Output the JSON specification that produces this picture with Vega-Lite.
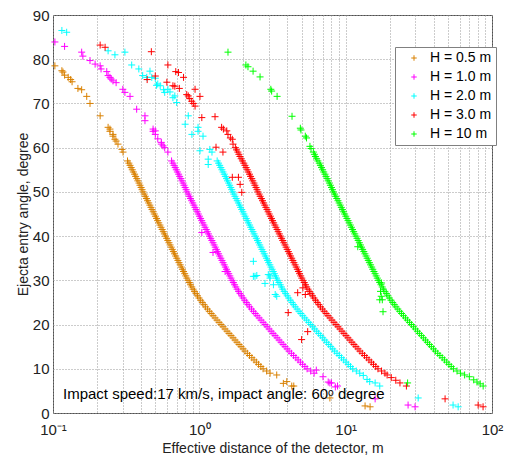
{
"$schema":"https://vega.github.io/schema/vega-lite/v6.json",
"width":439,"height":398,
"autosize":{"type":"none"},
"padding":{"left":53,"top":15,"right":16,"bottom":42},
"background":"white",
"config":{"view":{"stroke":"#505050","strokeWidth":1},"font":"Liberation Sans"},
"layer":[
{"data":{"values":[
{"H":"0.5","x":0.103,"y":78.5},{"H":"0.5","x":0.115,"y":77.4},{"H":"0.5","x":0.117,"y":77.1},{"H":"0.5","x":0.12,"y":76.4},{"H":"0.5","x":0.127,"y":75.9},{"H":"0.5","x":0.132,"y":75.4},{"H":"0.5","x":0.135,"y":74.9},{"H":"0.5","x":0.148,"y":73.4},{"H":"0.5","x":0.157,"y":73.1},{"H":"0.5","x":0.17,"y":71.6},{"H":"0.5","x":0.179,"y":70},{"H":"0.5","x":0.21,"y":67.2},{"H":"0.5","x":0.238,"y":64.6},{"H":"0.5","x":0.245,"y":64.2},{"H":"0.5","x":0.245,"y":63.7},{"H":"0.5","x":0.257,"y":63},{"H":"0.5","x":0.257,"y":62.6},{"H":"0.5","x":0.265,"y":61.9},{"H":"0.5","x":0.27,"y":61.5},{"H":"0.5","x":0.278,"y":60.8},{"H":"0.5","x":0.296,"y":59.6},{"H":"0.5","x":0.301,"y":59},
{"H":"0.5","x":0.323,"y":57},{"H":"0.5","x":0.330,"y":56.5},{"H":"0.5","x":0.336,"y":56},{"H":"0.5","x":0.342,"y":55.5},{"H":"0.5","x":0.348,"y":55},{"H":"0.5","x":0.354,"y":54.5},{"H":"0.5","x":0.361,"y":54},{"H":"0.5","x":0.367,"y":53.5},{"H":"0.5","x":0.374,"y":53},{"H":"0.5","x":0.380,"y":52.5},{"H":"0.5","x":0.387,"y":52},{"H":"0.5","x":0.393,"y":51.5},{"H":"0.5","x":0.400,"y":51},{"H":"0.5","x":0.406,"y":50.5},{"H":"0.5","x":0.412,"y":50},{"H":"0.5","x":0.420,"y":49.5},{"H":"0.5","x":0.427,"y":49},{"H":"0.5","x":0.435,"y":48.5},{"H":"0.5","x":0.443,"y":48},{"H":"0.5","x":0.451,"y":47.5},{"H":"0.5","x":0.459,"y":47},{"H":"0.5","x":0.467,"y":46.5},{"H":"0.5","x":0.475,"y":46},{"H":"0.5","x":0.484,"y":45.5},{"H":"0.5","x":0.492,"y":45},{"H":"0.5","x":0.501,"y":44.5},{"H":"0.5","x":0.510,"y":44},{"H":"0.5","x":0.519,"y":43.5},{"H":"0.5","x":0.528,"y":43},{"H":"0.5","x":0.538,"y":42.5},{"H":"0.5","x":0.547,"y":42},{"H":"0.5","x":0.557,"y":41.5},{"H":"0.5","x":0.567,"y":41},{"H":"0.5","x":0.577,"y":40.5},{"H":"0.5","x":0.587,"y":40},{"H":"0.5","x":0.598,"y":39.5},{"H":"0.5","x":0.609,"y":39},{"H":"0.5","x":0.620,"y":38.5},{"H":"0.5","x":0.631,"y":38},{"H":"0.5","x":0.642,"y":37.5},{"H":"0.5","x":0.653,"y":37},{"H":"0.5","x":0.665,"y":36.5},{"H":"0.5","x":0.677,"y":36},{"H":"0.5","x":0.689,"y":35.5},{"H":"0.5","x":0.701,"y":35},{"H":"0.5","x":0.714,"y":34.5},{"H":"0.5","x":0.726,"y":34},{"H":"0.5","x":0.740,"y":33.5},{"H":"0.5","x":0.753,"y":33},{"H":"0.5","x":0.766,"y":32.5},{"H":"0.5","x":0.780,"y":32},{"H":"0.5","x":0.794,"y":31.5},{"H":"0.5","x":0.808,"y":31},{"H":"0.5","x":0.822,"y":30.5},{"H":"0.5","x":0.837,"y":30},{"H":"0.5","x":0.854,"y":29.5},{"H":"0.5","x":0.871,"y":29},{"H":"0.5","x":0.888,"y":28.5},{"H":"0.5","x":0.906,"y":28},{"H":"0.5","x":0.927,"y":27.5},{"H":"0.5","x":0.949,"y":27},{"H":"0.5","x":0.972,"y":26.5},{"H":"0.5","x":0.995,"y":26},{"H":"0.5","x":1.021,"y":25.5},{"H":"0.5","x":1.048,"y":25},{"H":"0.5","x":1.075,"y":24.5},{"H":"0.5","x":1.103,"y":24},{"H":"0.5","x":1.136,"y":23.5},{"H":"0.5","x":1.170,"y":23},{"H":"0.5","x":1.205,"y":22.5},{"H":"0.5","x":1.241,"y":22},{"H":"0.5","x":1.281,"y":21.5},{"H":"0.5","x":1.321,"y":21},{"H":"0.5","x":1.364,"y":20.5},{"H":"0.5","x":1.407,"y":20},{"H":"0.5","x":1.452,"y":19.5},{"H":"0.5","x":1.498,"y":19},{"H":"0.5","x":1.547,"y":18.5},{"H":"0.5","x":1.595,"y":18},{"H":"0.5","x":1.647,"y":17.5},{"H":"0.5","x":1.699,"y":17},{"H":"0.5","x":1.754,"y":16.5},{"H":"0.5","x":1.809,"y":16},{"H":"0.5","x":1.868,"y":15.5},{"H":"0.5","x":1.927,"y":15},{"H":"0.5","x":1.990,"y":14.5},{"H":"0.5","x":2.052,"y":14},{"H":"0.5","x":2.128,"y":13.5},{"H":"0.5","x":2.203,"y":13},{"H":"0.5","x":2.284,"y":12.5},{"H":"0.5","x":2.365,"y":12},{"H":"0.5","x":2.452,"y":11.5},{"H":"0.5","x":2.539,"y":11},{"H":"0.5","x":2.632,"y":10.5},{"H":"0.5","x":2.725,"y":10},{"H":"0.5","x":2.884,"y":9.5},{"H":"0.5","x":3.043,"y":9},
{"H":"0.5","x":3.38,"y":8.6},{"H":"0.5","x":3.75,"y":6.7},{"H":"0.5","x":3.96,"y":7.1},{"H":"0.5","x":4.28,"y":6.1},{"H":"0.5","x":4.42,"y":6.1},{"H":"0.5","x":7.8,"y":3.4},{"H":"0.5","x":13.57,"y":1.6},{"H":"0.5","x":14.68,"y":1.4},

{"H":"1.0","x":0.103,"y":83.9},{"H":"1.0","x":0.12,"y":82.9},{"H":"1.0","x":0.157,"y":81.6},{"H":"1.0","x":0.16,"y":80.7},{"H":"1.0","x":0.179,"y":79.7},{"H":"1.0","x":0.194,"y":78.9},{"H":"1.0","x":0.21,"y":78.5},{"H":"1.0","x":0.213,"y":77.8},{"H":"1.0","x":0.233,"y":77.2},{"H":"1.0","x":0.238,"y":76.3},{"H":"1.0","x":0.245,"y":75.9},{"H":"1.0","x":0.25,"y":75.5},{"H":"1.0","x":0.257,"y":75.1},{"H":"1.0","x":0.27,"y":74.7},{"H":"1.0","x":0.30,"y":73.2},{"H":"1.0","x":0.31,"y":72.5},{"H":"1.0","x":0.336,"y":71.6},{"H":"1.0","x":0.373,"y":68.7},{"H":"1.0","x":0.425,"y":67.2},{"H":"1.0","x":0.425,"y":66.1},{"H":"1.0","x":0.483,"y":64.2},{"H":"1.0","x":0.483,"y":63.7},{"H":"1.0","x":0.5,"y":63.8},{"H":"1.0","x":0.5,"y":63.0},{"H":"1.0","x":0.52,"y":62.0},{"H":"1.0","x":0.55,"y":61.2},{"H":"1.0","x":0.55,"y":60.8},{"H":"1.0","x":0.565,"y":60.4},{"H":"1.0","x":0.58,"y":60.0},{"H":"1.0","x":0.61,"y":59.0},
{"H":"1.0","x":0.646,"y":57},{"H":"1.0","x":0.660,"y":56.5},{"H":"1.0","x":0.672,"y":56},{"H":"1.0","x":0.684,"y":55.5},{"H":"1.0","x":0.696,"y":55},{"H":"1.0","x":0.708,"y":54.5},{"H":"1.0","x":0.722,"y":54},{"H":"1.0","x":0.734,"y":53.5},{"H":"1.0","x":0.748,"y":53},{"H":"1.0","x":0.760,"y":52.5},{"H":"1.0","x":0.774,"y":52},{"H":"1.0","x":0.786,"y":51.5},{"H":"1.0","x":0.800,"y":51},{"H":"1.0","x":0.812,"y":50.5},{"H":"1.0","x":0.824,"y":50},{"H":"1.0","x":0.840,"y":49.5},{"H":"1.0","x":0.854,"y":49},{"H":"1.0","x":0.870,"y":48.5},{"H":"1.0","x":0.886,"y":48},{"H":"1.0","x":0.902,"y":47.5},{"H":"1.0","x":0.918,"y":47},{"H":"1.0","x":0.934,"y":46.5},{"H":"1.0","x":0.950,"y":46},{"H":"1.0","x":0.968,"y":45.5},{"H":"1.0","x":0.984,"y":45},{"H":"1.0","x":1.002,"y":44.5},{"H":"1.0","x":1.020,"y":44},{"H":"1.0","x":1.038,"y":43.5},{"H":"1.0","x":1.056,"y":43},{"H":"1.0","x":1.076,"y":42.5},{"H":"1.0","x":1.094,"y":42},{"H":"1.0","x":1.114,"y":41.5},{"H":"1.0","x":1.134,"y":41},{"H":"1.0","x":1.154,"y":40.5},{"H":"1.0","x":1.174,"y":40},{"H":"1.0","x":1.196,"y":39.5},{"H":"1.0","x":1.218,"y":39},{"H":"1.0","x":1.240,"y":38.5},{"H":"1.0","x":1.262,"y":38},{"H":"1.0","x":1.284,"y":37.5},{"H":"1.0","x":1.306,"y":37},{"H":"1.0","x":1.330,"y":36.5},{"H":"1.0","x":1.354,"y":36},{"H":"1.0","x":1.378,"y":35.5},{"H":"1.0","x":1.402,"y":35},{"H":"1.0","x":1.428,"y":34.5},{"H":"1.0","x":1.452,"y":34},{"H":"1.0","x":1.480,"y":33.5},{"H":"1.0","x":1.506,"y":33},{"H":"1.0","x":1.532,"y":32.5},{"H":"1.0","x":1.560,"y":32},{"H":"1.0","x":1.588,"y":31.5},{"H":"1.0","x":1.616,"y":31},{"H":"1.0","x":1.644,"y":30.5},{"H":"1.0","x":1.674,"y":30},{"H":"1.0","x":1.708,"y":29.5},{"H":"1.0","x":1.742,"y":29},{"H":"1.0","x":1.776,"y":28.5},{"H":"1.0","x":1.812,"y":28},{"H":"1.0","x":1.854,"y":27.5},{"H":"1.0","x":1.898,"y":27},{"H":"1.0","x":1.944,"y":26.5},{"H":"1.0","x":1.990,"y":26},{"H":"1.0","x":2.042,"y":25.5},{"H":"1.0","x":2.096,"y":25},{"H":"1.0","x":2.150,"y":24.5},{"H":"1.0","x":2.206,"y":24},{"H":"1.0","x":2.272,"y":23.5},{"H":"1.0","x":2.340,"y":23},{"H":"1.0","x":2.410,"y":22.5},{"H":"1.0","x":2.482,"y":22},{"H":"1.0","x":2.562,"y":21.5},{"H":"1.0","x":2.642,"y":21},{"H":"1.0","x":2.728,"y":20.5},{"H":"1.0","x":2.814,"y":20},{"H":"1.0","x":2.904,"y":19.5},{"H":"1.0","x":2.996,"y":19},{"H":"1.0","x":3.094,"y":18.5},{"H":"1.0","x":3.190,"y":18},{"H":"1.0","x":3.294,"y":17.5},{"H":"1.0","x":3.398,"y":17},{"H":"1.0","x":3.508,"y":16.5},{"H":"1.0","x":3.618,"y":16},{"H":"1.0","x":3.736,"y":15.5},{"H":"1.0","x":3.854,"y":15},{"H":"1.0","x":3.980,"y":14.5},{"H":"1.0","x":4.104,"y":14},{"H":"1.0","x":4.256,"y":13.5},{"H":"1.0","x":4.406,"y":13},{"H":"1.0","x":4.568,"y":12.5},{"H":"1.0","x":4.730,"y":12},{"H":"1.0","x":4.904,"y":11.5},{"H":"1.0","x":5.078,"y":11},{"H":"1.0","x":5.264,"y":10.5},{"H":"1.0","x":5.450,"y":10},{"H":"1.0","x":5.768,"y":9.5},{"H":"1.0","x":6.086,"y":9},
{"H":"1.0","x":1.04,"y":40.8},{"H":"1.0","x":1.24,"y":36.3},{"H":"1.0","x":1.5,"y":32},
{"H":"1.0","x":6.3,"y":9.7},{"H":"1.0","x":7.0,"y":8.2},{"H":"1.0","x":7.6,"y":7.0},{"H":"1.0","x":7.8,"y":6.8},{"H":"1.0","x":8.0,"y":6.8},{"H":"1.0","x":8.5,"y":5.9},{"H":"1.0","x":8.8,"y":6.1},{"H":"1.0","x":15.9,"y":3.2},{"H":"1.0","x":26.7,"y":1.8},{"H":"1.0","x":29.8,"y":1.4},

{"H":"2.0","x":0.115,"y":86.5},{"H":"2.0","x":0.124,"y":86.1},{"H":"2.0","x":0.238,"y":81.9},{"H":"2.0","x":0.265,"y":81.0},{"H":"2.0","x":0.31,"y":81.6},{"H":"2.0","x":0.345,"y":78.7},{"H":"2.0","x":0.386,"y":77.8},{"H":"2.0","x":0.41,"y":76.3},{"H":"2.0","x":0.437,"y":75.9},{"H":"2.0","x":0.46,"y":77.3},{"H":"2.0","x":0.473,"y":75.9},{"H":"2.0","x":0.5,"y":75.7},{"H":"2.0","x":0.51,"y":74.1},{"H":"2.0","x":0.52,"y":74.4},{"H":"2.0","x":0.54,"y":74.0},{"H":"2.0","x":0.57,"y":73.1},{"H":"2.0","x":0.58,"y":72.5},{"H":"2.0","x":0.61,"y":73.2},{"H":"2.0","x":0.63,"y":72.6},{"H":"2.0","x":0.66,"y":71.3},{"H":"2.0","x":0.68,"y":71.7},{"H":"2.0","x":0.70,"y":70.2},{"H":"2.0","x":0.80,"y":65.3},{"H":"2.0","x":0.84,"y":67.2},{"H":"2.0","x":0.89,"y":63.0},{"H":"2.0","x":0.98,"y":64.6},{"H":"2.0","x":0.98,"y":63.7},{"H":"2.0","x":1.06,"y":62.6},{"H":"2.0","x":1.01,"y":59.3},{"H":"2.0","x":1.15,"y":57.4},{"H":"2.0","x":1.15,"y":56.2},{"H":"2.0","x":1.18,"y":59.6},{"H":"2.0","x":1.22,"y":59.0},
{"H":"2.0","x":1.324,"y":57},{"H":"2.0","x":1.353,"y":56.5},{"H":"2.0","x":1.378,"y":56},{"H":"2.0","x":1.402,"y":55.5},{"H":"2.0","x":1.427,"y":55},{"H":"2.0","x":1.451,"y":54.5},{"H":"2.0","x":1.480,"y":54},{"H":"2.0","x":1.505,"y":53.5},{"H":"2.0","x":1.533,"y":53},{"H":"2.0","x":1.558,"y":52.5},{"H":"2.0","x":1.587,"y":52},{"H":"2.0","x":1.611,"y":51.5},{"H":"2.0","x":1.640,"y":51},{"H":"2.0","x":1.665,"y":50.5},{"H":"2.0","x":1.689,"y":50},{"H":"2.0","x":1.722,"y":49.5},{"H":"2.0","x":1.751,"y":49},{"H":"2.0","x":1.784,"y":48.5},{"H":"2.0","x":1.816,"y":48},{"H":"2.0","x":1.849,"y":47.5},{"H":"2.0","x":1.882,"y":47},{"H":"2.0","x":1.915,"y":46.5},{"H":"2.0","x":1.948,"y":46},{"H":"2.0","x":1.984,"y":45.5},{"H":"2.0","x":2.017,"y":45},{"H":"2.0","x":2.054,"y":44.5},{"H":"2.0","x":2.091,"y":44},{"H":"2.0","x":2.128,"y":43.5},{"H":"2.0","x":2.165,"y":43},{"H":"2.0","x":2.206,"y":42.5},{"H":"2.0","x":2.243,"y":42},{"H":"2.0","x":2.284,"y":41.5},{"H":"2.0","x":2.325,"y":41},{"H":"2.0","x":2.366,"y":40.5},{"H":"2.0","x":2.407,"y":40},{"H":"2.0","x":2.452,"y":39.5},{"H":"2.0","x":2.497,"y":39},{"H":"2.0","x":2.542,"y":38.5},{"H":"2.0","x":2.587,"y":38},{"H":"2.0","x":2.632,"y":37.5},{"H":"2.0","x":2.677,"y":37},{"H":"2.0","x":2.727,"y":36.5},{"H":"2.0","x":2.776,"y":36},{"H":"2.0","x":2.825,"y":35.5},{"H":"2.0","x":2.874,"y":35},{"H":"2.0","x":2.927,"y":34.5},{"H":"2.0","x":2.977,"y":34},{"H":"2.0","x":3.034,"y":33.5},{"H":"2.0","x":3.087,"y":33},{"H":"2.0","x":3.141,"y":32.5},{"H":"2.0","x":3.198,"y":32},{"H":"2.0","x":3.255,"y":31.5},{"H":"2.0","x":3.313,"y":31},{"H":"2.0","x":3.370,"y":30.5},{"H":"2.0","x":3.432,"y":30},{"H":"2.0","x":3.501,"y":29.5},{"H":"2.0","x":3.571,"y":29},{"H":"2.0","x":3.641,"y":28.5},{"H":"2.0","x":3.715,"y":28},{"H":"2.0","x":3.801,"y":27.5},{"H":"2.0","x":3.891,"y":27},{"H":"2.0","x":3.985,"y":26.5},{"H":"2.0","x":4.080,"y":26},{"H":"2.0","x":4.186,"y":25.5},{"H":"2.0","x":4.297,"y":25},{"H":"2.0","x":4.408,"y":24.5},{"H":"2.0","x":4.522,"y":24},{"H":"2.0","x":4.658,"y":23.5},{"H":"2.0","x":4.797,"y":23},{"H":"2.0","x":4.941,"y":22.5},{"H":"2.0","x":5.088,"y":22},{"H":"2.0","x":5.252,"y":21.5},{"H":"2.0","x":5.416,"y":21},{"H":"2.0","x":5.592,"y":20.5},{"H":"2.0","x":5.769,"y":20},{"H":"2.0","x":5.953,"y":19.5},{"H":"2.0","x":6.142,"y":19},{"H":"2.0","x":6.343,"y":18.5},{"H":"2.0","x":6.540,"y":18},{"H":"2.0","x":6.753,"y":17.5},{"H":"2.0","x":6.966,"y":17},{"H":"2.0","x":7.191,"y":16.5},{"H":"2.0","x":7.417,"y":16},{"H":"2.0","x":7.659,"y":15.5},{"H":"2.0","x":7.901,"y":15},{"H":"2.0","x":8.159,"y":14.5},{"H":"2.0","x":8.413,"y":14},{"H":"2.0","x":8.725,"y":13.5},{"H":"2.0","x":9.032,"y":13},{"H":"2.0","x":9.364,"y":12.5},{"H":"2.0","x":9.697,"y":12},{"H":"2.0","x":10.05,"y":11.5},{"H":"2.0","x":10.41,"y":11},{"H":"2.0","x":10.79,"y":10.5},{"H":"2.0","x":11.17,"y":10},{"H":"2.0","x":11.82,"y":9.5},{"H":"2.0","x":12.48,"y":9},
{"H":"2.0","x":2.34,"y":34.3},{"H":"2.0","x":2.34,"y":30.9},{"H":"2.0","x":2.47,"y":31.1},{"H":"2.0","x":2.4,"y":30.9},{"H":"2.0","x":2.81,"y":29.3},{"H":"2.0","x":2.96,"y":31.3},{"H":"2.0","x":3.04,"y":30.5},{"H":"2.0","x":3.04,"y":31},{"H":"2.0","x":3.21,"y":29.0},{"H":"2.0","x":3.3,"y":26.8},{"H":"2.0","x":3.38,"y":26.4},
{"H":"2.0","x":13.2,"y":8.5},{"H":"2.0","x":14.0,"y":7.6},{"H":"2.0","x":14.6,"y":7.1},{"H":"2.0","x":15.9,"y":6.8},{"H":"2.0","x":17.1,"y":6.1},{"H":"2.0","x":31.3,"y":3.4},{"H":"2.0","x":54.2,"y":1.8},{"H":"2.0","x":58.7,"y":1.4},

{"H":"3.0","x":0.21,"y":83.2},{"H":"3.0","x":0.227,"y":82.7},{"H":"3.0","x":0.47,"y":81.7},{"H":"3.0","x":0.44,"y":75.4},{"H":"3.0","x":0.5,"y":76.2},{"H":"3.0","x":0.6,"y":74.8},{"H":"3.0","x":0.61,"y":78.7},{"H":"3.0","x":0.66,"y":74.0},{"H":"3.0","x":0.68,"y":73.9},{"H":"3.0","x":0.69,"y":77.2},{"H":"3.0","x":0.72,"y":77.0},{"H":"3.0","x":0.73,"y":73.4},{"H":"3.0","x":0.78,"y":75.9},{"H":"3.0","x":0.82,"y":72.0},{"H":"3.0","x":0.84,"y":71.7},{"H":"3.0","x":0.86,"y":71.1},{"H":"3.0","x":0.887,"y":70.5},{"H":"3.0","x":0.91,"y":70.0},{"H":"3.0","x":0.935,"y":69.4},{"H":"3.0","x":0.935,"y":73.2},{"H":"3.0","x":1.01,"y":71.6},{"H":"3.0","x":1.04,"y":66.8},{"H":"3.0","x":1.28,"y":67.0},{"H":"3.0","x":1.42,"y":64.6},{"H":"3.0","x":1.46,"y":64.2},{"H":"3.0","x":1.54,"y":63.8},{"H":"3.0","x":1.57,"y":63.0},{"H":"3.0","x":1.63,"y":62.2},{"H":"3.0","x":1.68,"y":61.9},{"H":"3.0","x":1.70,"y":60.8},
{"H":"3.0","x":1.763,"y":60},{"H":"3.0","x":1.796,"y":59.5},{"H":"3.0","x":1.834,"y":59},{"H":"3.0","x":1.864,"y":58.5},{"H":"3.0","x":1.895,"y":58},{"H":"3.0","x":1.932,"y":57.5},{"H":"3.0","x":1.970,"y":57},{"H":"3.0","x":2.013,"y":56.5},{"H":"3.0","x":2.050,"y":56},{"H":"3.0","x":2.086,"y":55.5},{"H":"3.0","x":2.123,"y":55},{"H":"3.0","x":2.159,"y":54.5},{"H":"3.0","x":2.202,"y":54},{"H":"3.0","x":2.239,"y":53.5},{"H":"3.0","x":2.281,"y":53},{"H":"3.0","x":2.318,"y":52.5},{"H":"3.0","x":2.361,"y":52},{"H":"3.0","x":2.397,"y":51.5},{"H":"3.0","x":2.440,"y":51},{"H":"3.0","x":2.477,"y":50.5},{"H":"3.0","x":2.513,"y":50},{"H":"3.0","x":2.562,"y":49.5},{"H":"3.0","x":2.605,"y":49},{"H":"3.0","x":2.654,"y":48.5},{"H":"3.0","x":2.702,"y":48},{"H":"3.0","x":2.751,"y":47.5},{"H":"3.0","x":2.800,"y":47},{"H":"3.0","x":2.849,"y":46.5},{"H":"3.0","x":2.898,"y":46},{"H":"3.0","x":2.952,"y":45.5},{"H":"3.0","x":3.001,"y":45},{"H":"3.0","x":3.056,"y":44.5},{"H":"3.0","x":3.111,"y":44},{"H":"3.0","x":3.166,"y":43.5},{"H":"3.0","x":3.221,"y":43},{"H":"3.0","x":3.282,"y":42.5},{"H":"3.0","x":3.337,"y":42},{"H":"3.0","x":3.398,"y":41.5},{"H":"3.0","x":3.459,"y":41},{"H":"3.0","x":3.520,"y":40.5},{"H":"3.0","x":3.581,"y":40},{"H":"3.0","x":3.648,"y":39.5},{"H":"3.0","x":3.715,"y":39},{"H":"3.0","x":3.782,"y":38.5},{"H":"3.0","x":3.849,"y":38},{"H":"3.0","x":3.916,"y":37.5},{"H":"3.0","x":3.983,"y":37},{"H":"3.0","x":4.057,"y":36.5},{"H":"3.0","x":4.130,"y":36},{"H":"3.0","x":4.203,"y":35.5},{"H":"3.0","x":4.276,"y":35},{"H":"3.0","x":4.355,"y":34.5},{"H":"3.0","x":4.429,"y":34},{"H":"3.0","x":4.514,"y":33.5},{"H":"3.0","x":4.593,"y":33},{"H":"3.0","x":4.673,"y":32.5},{"H":"3.0","x":4.758,"y":32},{"H":"3.0","x":4.843,"y":31.5},{"H":"3.0","x":4.929,"y":31},{"H":"3.0","x":5.014,"y":30.5},{"H":"3.0","x":5.106,"y":30},{"H":"3.0","x":5.209,"y":29.5},{"H":"3.0","x":5.313,"y":29},{"H":"3.0","x":5.417,"y":28.5},{"H":"3.0","x":5.527,"y":28},{"H":"3.0","x":5.655,"y":27.5},{"H":"3.0","x":5.789,"y":27},{"H":"3.0","x":5.929,"y":26.5},{"H":"3.0","x":6.070,"y":26},{"H":"3.0","x":6.228,"y":25.5},{"H":"3.0","x":6.393,"y":25},{"H":"3.0","x":6.558,"y":24.5},{"H":"3.0","x":6.728,"y":24},{"H":"3.0","x":6.930,"y":23.5},{"H":"3.0","x":7.137,"y":23},{"H":"3.0","x":7.351,"y":22.5},{"H":"3.0","x":7.570,"y":22},{"H":"3.0","x":7.814,"y":21.5},{"H":"3.0","x":8.058,"y":21},{"H":"3.0","x":8.320,"y":20.5},{"H":"3.0","x":8.583,"y":20},{"H":"3.0","x":8.857,"y":19.5},{"H":"3.0","x":9.138,"y":19},{"H":"3.0","x":9.437,"y":18.5},{"H":"3.0","x":9.730,"y":18},{"H":"3.0","x":10.05,"y":17.5},{"H":"3.0","x":10.36,"y":17},{"H":"3.0","x":10.70,"y":16.5},{"H":"3.0","x":11.03,"y":16},{"H":"3.0","x":11.39,"y":15.5},{"H":"3.0","x":11.75,"y":15},{"H":"3.0","x":12.14,"y":14.5},{"H":"3.0","x":12.52,"y":14},{"H":"3.0","x":12.98,"y":13.5},{"H":"3.0","x":13.44,"y":13},{"H":"3.0","x":13.93,"y":12.5},{"H":"3.0","x":14.43,"y":12},{"H":"3.0","x":14.96,"y":11.5},{"H":"3.0","x":15.49,"y":11},{"H":"3.0","x":16.06,"y":10.5},{"H":"3.0","x":16.62,"y":10},{"H":"3.0","x":17.59,"y":9.5},{"H":"3.0","x":18.56,"y":9},
{"H":"3.0","x":1.3,"y":60.1},{"H":"3.0","x":1.45,"y":59.0},{"H":"3.0","x":1.68,"y":53.3},{"H":"3.0","x":1.85,"y":53.3},{"H":"3.0","x":1.9,"y":51.7},{"H":"3.0","x":1.95,"y":49.9},{"H":"3.0","x":4.05,"y":22.7},{"H":"3.0","x":4.7,"y":27.2},{"H":"3.0","x":5.1,"y":28.3},{"H":"3.0","x":5.3,"y":26.8},{"H":"3.0","x":5.5,"y":18.4},{"H":"3.0","x":5.0,"y":16.6},
{"H":"3.0","x":19.2,"y":8.6},{"H":"3.0","x":20.5,"y":8.0},{"H":"3.0","x":22.0,"y":7.4},{"H":"3.0","x":23.5,"y":6.8},{"H":"3.0","x":26.0,"y":6.1},{"H":"3.0","x":47.8,"y":3.2},{"H":"3.0","x":80.4,"y":1.8},{"H":"3.0","x":86.9,"y":1.4},

{"H":"10","x":1.57,"y":81.6},{"H":"10","x":2.08,"y":78.7},{"H":"10","x":2.15,"y":78.3},{"H":"10","x":2.33,"y":77.3},{"H":"10","x":2.6,"y":76.0},{"H":"10","x":3.08,"y":73.2},{"H":"10","x":3.12,"y":72.8},{"H":"10","x":3.4,"y":71.6},{"H":"10","x":4.3,"y":67.1},{"H":"10","x":4.9,"y":64.4},{"H":"10","x":4.95,"y":64.0},{"H":"10","x":5.3,"y":62.6},{"H":"10","x":5.4,"y":62.2},{"H":"10","x":5.7,"y":60.3},{"H":"10","x":5.8,"y":59.8},
{"H":"10","x":6.014,"y":59},{"H":"10","x":6.112,"y":58.5},{"H":"10","x":6.212,"y":58},{"H":"10","x":6.336,"y":57.5},{"H":"10","x":6.46,"y":57},{"H":"10","x":6.60,"y":56.5},{"H":"10","x":6.72,"y":56},{"H":"10","x":6.84,"y":55.5},{"H":"10","x":6.96,"y":55},{"H":"10","x":7.08,"y":54.5},{"H":"10","x":7.22,"y":54},{"H":"10","x":7.34,"y":53.5},{"H":"10","x":7.48,"y":53},{"H":"10","x":7.60,"y":52.5},{"H":"10","x":7.74,"y":52},{"H":"10","x":7.86,"y":51.5},{"H":"10","x":8.00,"y":51},{"H":"10","x":8.12,"y":50.5},{"H":"10","x":8.24,"y":50},{"H":"10","x":8.40,"y":49.5},{"H":"10","x":8.54,"y":49},{"H":"10","x":8.70,"y":48.5},{"H":"10","x":8.86,"y":48},{"H":"10","x":9.02,"y":47.5},{"H":"10","x":9.18,"y":47},{"H":"10","x":9.34,"y":46.5},{"H":"10","x":9.50,"y":46},{"H":"10","x":9.68,"y":45.5},{"H":"10","x":9.84,"y":45},{"H":"10","x":10.02,"y":44.5},{"H":"10","x":10.20,"y":44},{"H":"10","x":10.38,"y":43.5},{"H":"10","x":10.56,"y":43},{"H":"10","x":10.76,"y":42.5},{"H":"10","x":10.94,"y":42},{"H":"10","x":11.14,"y":41.5},{"H":"10","x":11.34,"y":41},{"H":"10","x":11.54,"y":40.5},{"H":"10","x":11.74,"y":40},{"H":"10","x":11.96,"y":39.5},{"H":"10","x":12.18,"y":39},{"H":"10","x":12.40,"y":38.5},{"H":"10","x":12.62,"y":38},{"H":"10","x":12.84,"y":37.5},{"H":"10","x":13.06,"y":37},{"H":"10","x":13.30,"y":36.5},{"H":"10","x":13.54,"y":36},{"H":"10","x":13.78,"y":35.5},{"H":"10","x":14.02,"y":35},{"H":"10","x":14.28,"y":34.5},{"H":"10","x":14.52,"y":34},{"H":"10","x":14.80,"y":33.5},{"H":"10","x":15.06,"y":33},{"H":"10","x":15.32,"y":32.5},{"H":"10","x":15.60,"y":32},{"H":"10","x":15.88,"y":31.5},{"H":"10","x":16.16,"y":31},{"H":"10","x":16.44,"y":30.5},{"H":"10","x":16.74,"y":30},{"H":"10","x":17.08,"y":29.5},{"H":"10","x":17.42,"y":29},{"H":"10","x":17.76,"y":28.5},{"H":"10","x":18.12,"y":28},{"H":"10","x":18.54,"y":27.5},{"H":"10","x":18.98,"y":27},{"H":"10","x":19.44,"y":26.5},{"H":"10","x":19.90,"y":26},{"H":"10","x":20.42,"y":25.5},{"H":"10","x":20.96,"y":25},{"H":"10","x":21.50,"y":24.5},{"H":"10","x":22.06,"y":24},{"H":"10","x":22.72,"y":23.5},{"H":"10","x":23.40,"y":23},{"H":"10","x":24.10,"y":22.5},{"H":"10","x":24.82,"y":22},{"H":"10","x":25.62,"y":21.5},{"H":"10","x":26.42,"y":21},{"H":"10","x":27.28,"y":20.5},{"H":"10","x":28.14,"y":20},{"H":"10","x":29.04,"y":19.5},{"H":"10","x":29.96,"y":19},{"H":"10","x":30.94,"y":18.5},{"H":"10","x":31.90,"y":18},{"H":"10","x":32.94,"y":17.5},{"H":"10","x":33.98,"y":17},{"H":"10","x":35.08,"y":16.5},{"H":"10","x":36.18,"y":16},{"H":"10","x":37.36,"y":15.5},{"H":"10","x":38.54,"y":15},{"H":"10","x":39.80,"y":14.5},{"H":"10","x":41.04,"y":14},{"H":"10","x":42.56,"y":13.5},{"H":"10","x":44.06,"y":13},{"H":"10","x":45.68,"y":12.5},{"H":"10","x":47.30,"y":12},{"H":"10","x":49.04,"y":11.5},{"H":"10","x":50.78,"y":11},{"H":"10","x":52.64,"y":10.5},{"H":"10","x":54.50,"y":10},{"H":"10","x":57.68,"y":9.5},{"H":"10","x":60.86,"y":9},
{"H":"10","x":12.1,"y":37.6},{"H":"10","x":17.6,"y":29.4},{"H":"10","x":17.3,"y":27.5},{"H":"10","x":17.5,"y":26.4},{"H":"10","x":17.1,"y":25.6},{"H":"10","x":17.8,"y":25.6},{"H":"10","x":18.0,"y":22.9},
{"H":"10","x":65,"y":8.6},{"H":"10","x":70,"y":8.2},{"H":"10","x":75,"y":7.5},{"H":"10","x":79,"y":7.0},{"H":"10","x":83,"y":6.6},{"H":"10","x":87,"y":6.1},{"H":"10","x":26.5,"y":6.8}
]},
"mark":{"type":"point","shape":"M-1,0H1M0,-1V1","filled":false,"size":49,"strokeWidth":1,"opacity":1},
"encoding":{
"x":{"field":"x","type":"quantitative","scale":{"type":"log","domain":[0.1,100]},
"axis":{"values":[0.1,0.2,0.3,0.4,0.5,0.6,0.7,0.8,0.9,1,2,3,4,5,6,7,8,9,10,20,30,40,50,60,70,80,90,100],
"labelExpr":"datum.value == 0.1 ? '10⁻¹' : datum.value == 1 ? '10⁰' : datum.value == 10 ? '10¹' : datum.value == 100 ? '10²' : ''",
"title":"Effective distance of the detector, m","grid":true,"gridDash":[1,2],"gridColor":"#999999","gridOpacity":1,"ticks":false,"domain":false,
"labelFontSize":15,"labelColor":"#222222","labelPadding":9,"labelFlush":false,"labelOverlap":false,"labelBound":false,
"titleFontSize":14,"titleFontWeight":"normal","titleColor":"#222222","titlePadding":4}},
"y":{"field":"y","type":"quantitative","scale":{"domain":[0,90]},
"axis":{"values":[0,10,20,30,40,50,60,70,80,90],"title":"Ejecta entry angle, degree","grid":true,"gridDash":[1,2],"gridColor":"#999999","gridOpacity":1,"ticks":false,"domain":false,
"labelFontSize":15,"labelColor":"#222222","labelPadding":4,"labelOverlap":false,"labelFlush":false,
"titleFontSize":14,"titleFontWeight":"normal","titleColor":"#222222","titlePadding":2}},
"color":{"field":"H","type":"nominal","scale":{"domain":["0.5","1.0","2.0","3.0","10"],"range":["#d98000","#ff00ff","#00ffff","#ff0000","#00ff00"]},
"legend":{"title":null,"orient":"none","legendX":342,"legendY":32,"labelExpr":"'H = ' + datum.label + ' m'","labelFontSize":14,"labelColor":"#000000","symbolType":"M-1,0H1M0,-1V1","symbolSize":30,"symbolStrokeWidth":1,"symbolOffset":8,"labelOffset":9,"rowPadding":5,"padding":4,"strokeColor":"#808080","fillColor":"white"}}
}},
{"data":{"values":[{"x":0.117,"y":4.3,"t":"Impact speed:17 km/s, impact angle: 60ᵒ degree"}]},
"mark":{"type":"text","align":"left","baseline":"middle","fontSize":15,"font":"Liberation Sans","color":"#000000"},
"encoding":{"x":{"field":"x","type":"quantitative"},"y":{"field":"y","type":"quantitative"},"text":{"field":"t"}}}
]
}
